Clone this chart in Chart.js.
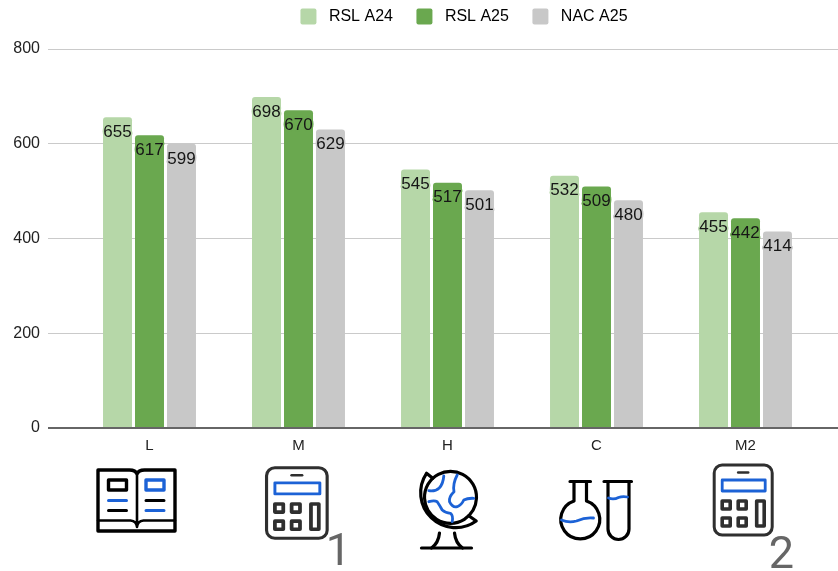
<!DOCTYPE html>
<html><head><meta charset="utf-8">
<style>html,body{margin:0;padding:0;background:#fff}#w{width:838px;height:571px;position:relative}</style>
<script src="https://cdn.jsdelivr.net/npm/chart.js@4"></script>
</head><body><div id="w"><canvas id="c" width="838" height="571"></canvas></div>
<script>
const categories = ["L","M","H","C","M2"];
const rslA24 = [655,698,545,532,455];
const rslA25 = [617,670,517,509,442];
const nacA25 = [599,629,501,480,414];
const seriesNames = ["RSL A24","RSL A25","NAC A25"];
const seriesColors = ["#b6d7a8","#6aa84f","#c8c8c8"];
const yTicks = [0,200,400,600,800];
const FONT = '"Liberation Sans", Arial, sans-serif';
const BLUE = '#1c62d6';

function line(ctx, d, color, w){ ctx.strokeStyle=color; ctx.lineWidth=w; ctx.stroke(new Path2D(d)); }
function book(ctx){
  ctx.lineJoin='round'; ctx.lineCap='round';
  line(ctx,'M-51.5 470 H-20 Q-14 470 -12.5 474 Q-11 470 -5 470 H25.5 V531 H-51.5 Z','#000',3.4);
  line(ctx,'M-12.5 474 V527 M-51.5 520.5 H-19 Q-13 521 -12.5 527 Q-12 521 -6 520.5 H25.5','#000',2.6);
  ctx.lineCap='butt';
  line(ctx,'M-41 480 H-23 V490 H-41 Z','#000',3.4);
  line(ctx,'M-3.5 480 H14.5 V490 H-3.5 Z',BLUE,3.4);
  ctx.lineCap='round';
  line(ctx,'M-41 500.5 H-23 M-3.5 510.5 H14.5',BLUE,3);
  line(ctx,'M-41 510.5 H-23 M-3.5 500.5 H14.5','#000',3);
}
function calc(ctx,x,y,sx,sy){
  ctx.save(); ctx.translate(x,y); ctx.scale(sx,sy);
  const c='#2f2f2f';
  ctx.lineJoin='round';
  ctx.beginPath(); ctx.roundRect(1,1,58,70,8); ctx.strokeStyle=c; ctx.lineWidth=3; ctx.stroke();
  ctx.lineCap='round';
  line(ctx,'M25 8.5 H35',c,2.6);
  ctx.lineCap='butt';
  ctx.strokeStyle=BLUE; ctx.lineWidth=2.8; ctx.strokeRect(9,16,43,11);
  ctx.strokeStyle=c; ctx.lineWidth=3.6;
  ctx.strokeRect(9,37,8,8); ctx.strokeRect(25,37,8,8);
  ctx.strokeRect(9,54,8,8); ctx.strokeRect(25,54,8,8);
  ctx.strokeRect(43.5,37,7.5,25);
  ctx.restore();
}
function globe(ctx){
  ctx.lineJoin='round'; ctx.lineCap='round';
  line(ctx,'M3 471.3 A26 26 0 1 1 2.99 471.3 Z','#000',3.2);
  line(ctx,'M-14.7 478.3 L-21 473.3 A35 35 0 0 0 28.7 521 L21.3 515.7','#000',3.2);
  line(ctx,'M-8 533 Q-9 543 -16 548 M7 533 Q8 543 15 548','#000',3.2);
  line(ctx,'M-26 548 H24','#000',3.2);
  line(ctx,'M-18.7 490.7 Q-5.3 492.5 -3.7 476 M9.7 475 Q5 484 6.5 491.7 Q1 497 2 501.7 Q5 508 9.7 506.7 Q14 505 16.3 500 Q20 498 26.3 498.3 M-18.7 501.7 Q-13 500 -10.3 501.7 Q-8 505 -5.3 510 Q-2 513 3 513.3 Q6 516 4.7 521.7',BLUE,2.8);
}
function flask(ctx){
  ctx.lineJoin='round'; ctx.lineCap='round';
  line(ctx,'M-26.5 481.5 H-6 M7.5 481.5 H35','#000',3.2);
  line(ctx,'M-22.5 481.5 V501 A19.5 19.5 0 1 0 -10 501 V481.5','#000',3.2);
  line(ctx,'M11.5 481.5 V529 A10.5 10.5 0 0 0 32.5 529 V481.5','#000',3.2);
  line(ctx,'M-35 520 Q-28 523 -20 521 Q-11 517 -3 518',BLUE,2.8);
  line(ctx,'M12 498 Q17 500 22 497.5 Q26 496 31 497',BLUE,2.8);
}
const iconPlugin = {
  id:'icons',
  afterLayout(chart){
    const l = chart.legend;
    l.left = 90; l.right = 838; l.top = -15;
  },
  beforeDatasetsDraw(chart){
    const {ctx,scales:{y}} = chart;
    ctx.save();
    ctx.strokeStyle='#cacaca'; ctx.lineWidth=1;
    yTicks.forEach(v=>{
      if(v===0) return;
      const p=Math.round(y.getPixelForValue(v))+0.5;
      ctx.beginPath(); ctx.moveTo(48,p); ctx.lineTo(838,p); ctx.stroke();
    });
    ctx.restore();
  },
  afterDatasetsDraw(chart){
    const {ctx,scales:{y}} = chart;
    ctx.save();
    const b=y.getPixelForValue(0);
    ctx.strokeStyle='#666'; ctx.lineWidth=2;
    ctx.beginPath(); ctx.moveTo(48,b); ctx.lineTo(838,b); ctx.stroke();
    ctx.font='17px '+FONT; ctx.textAlign='center'; ctx.textBaseline='middle'; ctx.lineJoin='round';
    chart.data.datasets.forEach((ds,i)=>{
      chart.getDatasetMeta(i).data.forEach((el,j)=>{
        const t=String(ds.data[j]);
        ctx.strokeStyle=ds.backgroundColor; ctx.lineWidth=3;
        ctx.strokeText(t,el.x,el.y+15);
        ctx.fillStyle='#161616';
        ctx.fillText(t,el.x,el.y+15);
      });
    });
    ctx.restore();
  },
  afterDraw(chart){
    const {ctx,scales:{x}} = chart;
    const at=(i,fn)=>{ctx.save();ctx.translate(x.getPixelForValue(i),0);fn(ctx);ctx.restore();};
    at(0,book);
    at(1,c=>{calc(c,-33,466.7,62.7/60,72.6/72);});
    at(2,globe);
    at(3,flask);
    at(4,c=>{calc(c,-32.3,464,1,1);});
    ctx.save();
    ctx.fillStyle='#666'; ctx.font='400 45px Roboto, '+FONT; ctx.textAlign='center'; ctx.textBaseline='alphabetic';
    at(1,c=>{c.fillText('1',40,565);});
    at(4,c=>{c.fillText('2',36,568);});
    ctx.restore();
  }
};
const mk=(i,d)=>({label:seriesNames[i],data:d,backgroundColor:seriesColors[i],borderRadius:{topLeft:3,topRight:3},borderSkipped:'bottom',categoryPercentage:0.644,barPercentage:0.906});
new Chart(document.getElementById('c'),{
  type:'bar',
  data:{labels:categories,datasets:[mk(0,rslA24),mk(1,rslA25),mk(2,nacA25)]},
  plugins:[iconPlugin],
  options:{
    responsive:false,animation:false,
    layout:{autoPadding:false,padding:{left:0,right:18,top:-1,bottom:0}},
    plugins:{
      tooltip:{enabled:false},
      legend:{position:'top',align:'center',labels:{
        boxWidth:16,boxHeight:16,padding:23.5,color:'#444',font:{size:16,family:FONT},useBorderRadius:true,borderRadius:2,
        generateLabels(chart){
          return chart.data.datasets.map((d,i)=>({text:' '+d.label,fillStyle:d.backgroundColor,strokeStyle:d.backgroundColor,lineWidth:0,datasetIndex:i,borderRadius:2}));
        }
      }}
    },
    scales:{
      x:{
        grid:{display:false,drawTicks:false},border:{display:false},
        ticks:{color:'#222',font:{size:15,family:FONT},padding:9,maxRotation:0},
        afterFit(s){s.height=143;}
      },
      y:{
        min:0,max:800,
        grid:{display:false,drawTicks:false},border:{display:false},
        ticks:{stepSize:200,color:'#222',font:{size:16,family:FONT},padding:35},
        afterFit(s){s.width=75;}
      }
    }
  }
});
</script></body></html>
